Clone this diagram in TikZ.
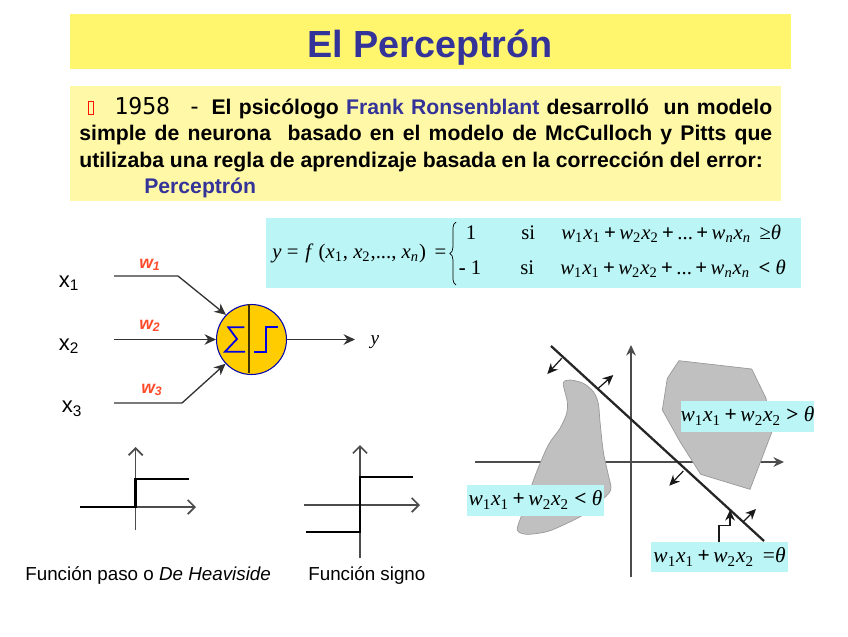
\documentclass[tikz,border=0pt]{standalone}
\usepackage{fontspec}
\setmainfont{Liberation Sans}
\newfontfamily\timesfont{Liberation Serif}
\newfontfamily\monofont{DejaVu Sans Mono}
\usetikzlibrary{arrows.meta,decorations.pathreplacing}
\definecolor{titleyellow}{HTML}{FFF66E}
\definecolor{textyellow}{HTML}{FFF8A6}
\definecolor{formulacyan}{HTML}{BBF5F5}
\definecolor{titleblue}{HTML}{333399}
\definecolor{weightred}{HTML}{FF4A2A}
\definecolor{neurongold}{HTML}{FFCC00}
\definecolor{blobgray}{HTML}{C0C0C0}
\newcommand{\wx}[2]{\textit{w}\textsubscript{#1}\textit{x}\textsubscript{#2}}
\newcommand{\pl}{\textbf{\,+\,}}
\tikzset{
  wire/.style={draw=black!80, line width=0.75pt, -{Stealth[length=6.5pt,width=6pt]}},
  axis/.style={draw=black!70, line width=0.7pt, -{Straight Barb[length=4pt,width=8pt,line width=1pt]}},
  step line/.style={draw=black, line width=1.5pt},
  plot axis/.style={draw=black!70, line width=0.9pt},
  normal arrow/.style={draw=black!90, line width=0.7pt, -{Stealth[length=6pt,width=5.5pt]}},
  blob/.style={fill=blobgray, draw=black!40, line width=0.4pt},
  formula/.style={font=\timesfont\fontsize{11.8}{14}\selectfont, inner sep=0pt},
  region/.style={fill=formulacyan, font=\timesfont\fontsize{12.2}{14}\selectfont, inner sep=0pt, anchor=center},
  inputname/.style={font=\fontsize{12.5}{14}\selectfont, inner sep=0pt},
  weightname/.style={font=\bfseries\itshape\fontsize{10}{12}\selectfont, text=weightred, inner sep=0pt},
  caption/.style={font=\fontsize{10.7}{12}\selectfont, inner sep=0pt}
}
\begin{document}
\begin{tikzpicture}[x=0.02cm,y=-0.02cm]
\useasboundingbox (0,0) rectangle (848,636);
% headers
\fill[titleyellow] (70,14) rectangle (791,69);
\node[font=\bfseries\fontsize{21.5}{24}\selectfont, text=titleblue, inner sep=0pt] (title) at (430,48) {El Perceptr\'on};
\fill[textyellow] (70,86) rectangle (781,201);
\draw[red!85!orange, line width=0.4pt] (88.5,101) rectangle (93.5,114);
\node[anchor=north west, inner sep=0pt, text width=13.86cm, align=justify,
      font=\bfseries\fontsize{12.05}{15}\selectfont] (intro) at (79,97)
  {\hspace*{0.7cm}{\monofont\mdseries\fontsize{13.2}{15}\selectfont 1958 -}\hspace{0.2cm}El psic\'ologo \textcolor{titleblue}{Frank Ronsenblant} desarroll\'o\ \ un modelo\linebreak
   simple de neurona\ \ basado en el modelo de McCulloch y Pitts que\linebreak
   utilizaba una regla de aprendizaje basada en la correcci\'on del error:\\
   \hspace*{1.3cm}\textcolor{titleblue}{Perceptr\'on}};
% formula
\fill[formulacyan] (266,218) rectangle (801,288);
\node[formula, anchor=base west] (fdef) at (272,258) {\textit{y} =\,\,\textit{f} (\textit{x}\textsubscript{1}, \textit{x}\textsubscript{2},..., \textit{x}\textsubscript{\textit{n}}) \,=};
\draw[decorate, decoration={brace, amplitude=3.5pt}, line width=0.4pt] (456,285) -- (456,222);
\node[formula, anchor=base] (one) at (471,239) {1};
\node[formula, anchor=base] (minusone) at (470,274) {\textbf{-} 1};
\node[formula, anchor=base west] (si1) at (521,239) {si};
\node[formula, anchor=base west] (si2) at (520,274) {si};
\node[formula, anchor=base west] (sum1) at (561,239) {\wx{1}{1}\pl\wx{2}{2}\pl...\pl\textit{w}\textsubscript{\textit{n}}\textit{x}\textsubscript{\textit{n}} \,≥\textit{θ}};
\node[formula, anchor=base west] (sum2) at (560,274) {\wx{1}{1}\pl\wx{2}{2}\pl...\pl\textit{w}\textsubscript{\textit{n}}\textit{x}\textsubscript{\textit{n}} \,\textbf{<} \textit{θ}};
% neuron
\node[circle, fill=neurongold, draw=blue!70!black, line width=0.6pt, minimum size=1.4cm, inner sep=0pt] (neuron) at (251.5,339.5) {};
\draw[black!75!neurongold, line width=0.8pt] (neuron.north) ++(-2.5,0) -- ++(0,69);
\draw[blue!90!black, line width=1pt] (244.3,327.3) -- (228.3,327.3) -- (237,339) -- (225,351.7) -- (245,351.7);
\draw[blue!90!black, line width=1pt] (254,351.7) -- (265.7,351.7) -- (265.7,327.3) -- (278.3,327.3);
\node[inputname] (x1) at (69,283) {x\textsubscript{1}};
\node[inputname] (x2) at (69,346) {x\textsubscript{2}};
\node[inputname] (x3) at (72,409) {x\textsubscript{3}};
\node[weightname] (w1) at (150,265) {w\textsubscript{1}};
\node[weightname] (w2) at (150,326) {w\textsubscript{2}};
\node[weightname] (w3) at (152,390) {w\textsubscript{3}};
\node[font=\timesfont\itshape\fontsize{11}{13}\selectfont, inner sep=0pt] (y) at (375,342) {y};
\coordinate (in1) at (114,276);
\coordinate (in2) at (114,339.5);
\coordinate (in3) at (114,403);
\draw[wire] (in1) -- (178,276) -- (neuron.136);
\draw[wire] (in2) -- (neuron.west);
\draw[wire] (in3) -- (182,403) -- (neuron.223);
\draw[wire] (neuron.east) -- (355,339.5);
% activation functions
\draw[axis] (135.7,530) -- (135.7,447);
\draw[axis] (80,507) -- (196,507);
\draw[step line] (80,507) -- (135.7,507) -- (135.7,479) -- (189,479);
\draw[axis] (360,558) -- (360,445);
\draw[axis] (304,505) -- (420,505);
\draw[step line] (306,532) -- (360,532) -- (360,477) -- (413,477);
\node[caption, anchor=base west] (heaviside) at (25,580) {Funci\'on paso o \textit{De Heaviside}};
\node[caption, anchor=base west] (signo) at (308,580) {Funci\'on signo};
% separating line
\draw[plot axis, -{Stealth[length=6pt,width=5.5pt]}] (631,577) -- (631,345);
\draw[plot axis, -{Stealth[length=6pt,width=5.5pt]}] (475,462) -- (784,462);
\draw[blob] plot[smooth cycle, tension=0.5] coordinates {(563.3,383.3) (570,380) (583.3,383.3) (593.3,391.7) (598.3,403.3) (600,421.7) (603.3,451.7) (608.3,475) (610.7,490) (600,501.7) (583,515) (563.3,525) (546.7,531.7) (526.7,534.3) (517.3,530) (521.7,515) (528.3,495) (536.7,471.7) (548.3,445) (560,428.3) (566.7,413.3) (567.3,401.7)};
\draw[blob] (679,360.7) -- (751.7,369) -- (766,398.3) -- (772,431.7) -- (750,489.3) -- (700.7,474.3) -- (680,441.7) -- (662.3,410) -- (667.3,378.3) -- cycle;
\draw[black!85, line width=1.3pt] (551,346) -- (764,541);
\draw[normal arrow] (561.7,358.3) -- (547.3,374);
\draw[normal arrow] (598.3,388.3) -- (613.3,375);
\draw[normal arrow] (683.3,471) -- (669.3,485.7);
\draw[normal arrow] (743.3,521.7) -- (756,509);
\draw[normal arrow] (719,541.7) -- (719,525.7) -- (730,525.7) -- (730,510);
\node[region, minimum width=2.68cm, minimum height=0.62cm] (above) at (747.5,416) {\wx{1}{1}\pl\wx{2}{2} \textbf{>} \textit{θ}};
\node[region, minimum width=2.74cm, minimum height=0.62cm] (below) at (535.5,500) {\wx{1}{1}\pl\wx{2}{2} \textbf{<} \textit{θ}};
\node[region, minimum width=2.74cm, minimum height=0.6cm] (online) at (719.5,557) {\wx{1}{1}\pl\wx{2}{2} \,=\textit{θ}};
\end{tikzpicture}
\end{document}
